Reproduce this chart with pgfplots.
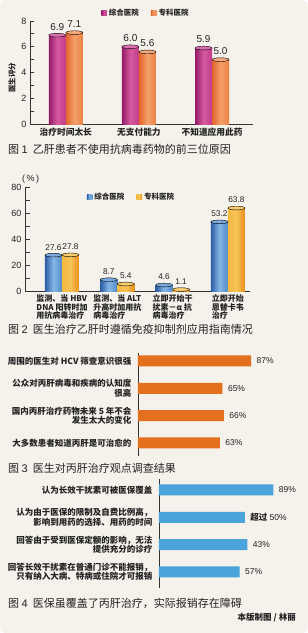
\documentclass[border=0pt]{standalone}
\usepackage{pgfplots}
\pgfplotsset{compat=1.18}
\usepackage{fontspec}
\setmainfont{Noto Sans CJK SC}
\newfontfamily\num{Liberation Sans}
\definecolor{bg}{HTML}{F5F1EB}
\definecolor{txt}{HTML}{222222}
\definecolor{axc}{HTML}{333333}
\definecolor{mgA}{HTML}{931A68}
\definecolor{mgB}{HTML}{D65AA0}
\definecolor{mgC}{HTML}{C23C8A}
\definecolor{mgT}{HTML}{DA6DAE}
\definecolor{orA}{HTML}{E2642A}
\definecolor{orB}{HTML}{F4A06C}
\definecolor{orC}{HTML}{EB8043}
\definecolor{orT}{HTML}{F4AA7C}
\definecolor{blA}{HTML}{2D5CA6}
\definecolor{blB}{HTML}{86B8E6}
\definecolor{blC}{HTML}{4C88CA}
\definecolor{blT}{HTML}{78A8DC}
\definecolor{ylA}{HTML}{F4B83E}
\definecolor{ylB}{HTML}{F6C457}
\definecolor{ylC}{HTML}{E88E1C}
\definecolor{ylT}{HTML}{F8CC6A}
\definecolor{bar3}{HTML}{E2701F}
\definecolor{bar4}{HTML}{4BA3DB}
\pgfplotsset{
  vbase/.style={
    scale only axis, clip=false,
    axis x line*=bottom, axis y line*=left,
    axis line style={-, line width=0.9pt, draw=axc},
    tick align=inside, major tick length=4.5pt, minor tick length=4.5pt,
    y tick style={line width=0.8pt, draw=axc},
    x tick style={draw=none},
    /pgf/number format/assume math mode=true,
    yticklabel style={font=\num\fontsize{9}{9}\selectfont, text=txt},
    legend style={draw=none, fill=none, legend columns=2, text=txt,
      font=\fontsize{7.5}{8}\selectfont\bfseries,
      /tikz/every even column/.append style={column sep=10pt}},
  },
  hbase/.style={
    scale only axis, clip=false,
    axis x line=none, axis y line*=left,
    axis line style={-, line width=0.9pt, draw=axc},
    y tick style={draw=none},
    yticklabel style={align=right, font=\fontsize{8.5}{9.5}\selectfont\bfseries, text=txt, xshift=-3pt},
    xmin=0, xmax=100,
  },
  sq/.style={legend image code/.code={\path[##1] (0pt,-2.8pt) rectangle (5.6pt,2.8pt);}},
  cyl/.style n args={4}{forget plot, ybar, bar width=17pt, bar shift=0pt, draw=none,
    left color=#1, right color=#3, middle color=#2,
    nodes near coords={\pgfmathprintnumber[fixed,fixed zerofill,precision=1]{\pgfplotspointmeta}},
    nodes near coords style={font=\num\fontsize{#4}{10}\selectfont, text=txt, yshift=1.5pt}},
  cyltop/.style={forget plot, only marks, mark=*, mark size=8.5pt, mark options={yscale=0.22, draw=none, fill=#1}},
}
\begin{document}
\begin{tikzpicture}
\useasboundingbox (0pt,0pt) rectangle (308pt,-633pt);
\fill[white] (0pt,0pt) rectangle (308pt,-633pt);
\fill[bg, rounded corners=5pt] (0pt,0pt) rectangle (308pt,-633pt);

% ---------- Chart 1 ----------
\begin{axis}[vbase,
  at={(30pt,-124pt)}, anchor=south west,
  width=223pt, height=103pt,
  xmin=-0.49, xmax=2.56, ymin=0, ymax=8,
  ytick={0,2,4,6,8}, minor ytick={1,3,5,7},
  xtick={0,1,2}, xticklabels={治疗时间太长,无支付能力,不知道应用此药},
  xticklabel style={font=\fontsize{8.7}{9}\selectfont\bfseries, text=txt},
  ylabel={医生评分},
  ylabel style={at={(axis description cs:-0.08,0.45)}, anchor=center, font=\fontsize{7.5}{8}\selectfont\bfseries, text=txt},
  legend style={at={(axis description cs:0.52,1.078)}, anchor=center},
]
\addlegendimage{sq, left color=mgA, right color=mgC, middle color=mgB, draw=none}
\addlegendentry{综合医院}
\addlegendimage{sq, left color=orA, right color=orC, middle color=orB, draw=none}
\addlegendentry{专科医院}
\addplot[cyl={mgA}{mgB}{mgC}{10}] coordinates {(-0.1164,6.9)};
\addplot[cyl={mgA}{mgB}{mgC}{10}] coordinates {(0.8836,6.0)};
\addplot[cyl={mgA}{mgB}{mgC}{10}] coordinates {(1.8836,5.9)};
\addplot[cyltop=mgT] coordinates {(-0.1164,6.9) (0.8836,6.0) (1.8836,5.9)};
\addplot[cyl={orA}{orB}{orC}{10}] coordinates {(0.1164,7.1)};
\addplot[cyl={orA}{orB}{orC}{10}] coordinates {(1.1164,5.6)};
\addplot[cyl={orA}{orB}{orC}{10}] coordinates {(2.1164,5.0)};
\addplot[cyltop=orT] coordinates {(0.1164,7.1) (1.1164,5.6) (2.1164,5.0)};
\end{axis}
\node[anchor=west, inner sep=0pt, font=\fontsize{11}{11}\selectfont, text=txt] at (8pt,-149pt) {图 {\num 1}\hspace{5pt}乙肝患者不使用抗病毒药物的前三位原因};

% ---------- Chart 2 ----------
\begin{axis}[vbase,
  at={(25pt,-291pt)}, anchor=south west,
  width=225pt, height=104pt,
  xmin=-0.669, xmax=3.40, ymin=0, ymax=80,
  ytick={0,20,40,60,80}, minor ytick={10,30,50,70},
  xtick={0,1,2,3},
  xticklabels={{监测、当 HBV\\DNA 阳转时加\\用抗病毒治疗},{监测、当 ALT\\升高时加用抗\\病毒治疗},{立即开始干\\扰素－α 抗\\病毒治疗},{立即开始\\恩替卡韦\\治疗}},
  xticklabel style={align=left, font=\fontsize{8}{8.7}\selectfont\bfseries, text=txt},
  legend style={at={(axis description cs:0.473,0.904)}, anchor=center},
]
\addlegendimage{sq, left color=blA, right color=blC, middle color=blB, draw=none}
\addlegendentry{综合医院}
\addlegendimage{sq, left color=ylA, right color=ylC, middle color=ylB, draw=none}
\addlegendentry{专科医院}
\addplot[cyl={blA}{blB}{blC}{8.3}] coordinates {(-0.1537,27.6)};
\addplot[cyl={blA}{blB}{blC}{8.3}] coordinates {(0.8463,8.7)};
\addplot[cyl={blA}{blB}{blC}{8.3}] coordinates {(1.8463,4.6)};
\addplot[cyl={blA}{blB}{blC}{8.3}] coordinates {(2.8463,53.2)};
\addplot[cyltop=blT] coordinates {(-0.1537,27.6) (0.8463,8.7) (1.8463,4.6) (2.8463,53.2)};
\addplot[cyl={ylA}{ylB}{ylC}{8.3}] coordinates {(0.1537,27.8)};
\addplot[cyl={ylA}{ylB}{ylC}{8.3}] coordinates {(1.1537,5.4)};
\addplot[cyl={ylA}{ylB}{ylC}{8.3}] coordinates {(2.1537,1.1)};
\addplot[cyl={ylA}{ylB}{ylC}{8.3}] coordinates {(3.1537,63.8)};
\addplot[cyltop=ylT] coordinates {(0.1537,27.8) (1.1537,5.4) (2.1537,1.1) (3.1537,63.8)};
\end{axis}
\node[anchor=west, inner sep=0pt, font=\num\fontsize{9}{9}\selectfont, text=txt] at (22pt,-179pt) {(\,\%\,)};
\node[anchor=west, inner sep=0pt, font=\fontsize{11}{11}\selectfont, text=txt] at (8pt,-329pt) {图 {\num 2}\hspace{5pt}医生治疗乙肝时遵循免疫抑制剂应用指南情况};

% ---------- Chart 3 ----------
\begin{axis}[hbase,
  at={(138pt,-456pt)}, anchor=south west,
  width=130pt, height=103pt,
  ymin=-3.48, ymax=0.29,
  ytick={0,-1,-2,-3},
  yticklabels={{周围的医生对 HCV 筛查意识很强},{公众对丙肝病毒和疾病的认知度\\很高},{国内丙肝治疗药物未来 5 年不会\\发生太大的变化},{大多数患者知道丙肝是可治愈的}},
]
\addplot[xbar, bar width=11pt, bar shift=0pt, fill=bar3, draw=none,
  point meta=explicit symbolic, nodes near coords,
  nodes near coords style={font=\num\fontsize{8.5}{9}\selectfont, text=txt, anchor=west, xshift=2pt}]
  coordinates {(87,0) [87\%] (65,-1) [65\%] (66,-2) [66\%] (63,-3) [63\%]};
\end{axis}
\node[anchor=west, inner sep=0pt, font=\fontsize{11}{11}\selectfont, text=txt] at (8pt,-468pt) {图 {\num 3}\hspace{5pt}医生对丙肝治疗观点调查结果};

% ---------- Chart 4 ----------
\begin{axis}[hbase,
  at={(159pt,-588pt)}, anchor=south west,
  width=130pt, height=109pt,
  ymin=-3.59, ymax=0.40,
  ytick={0,-1,-2,-3},
  yticklabels={{认为长效干扰素可被医保覆盖},{认为由于医保的限制及自费比例高，\\影响到用药的选择、用药的时间},{回答由于受到医保定额的影响，无法\\提供充分的诊疗},{回答长效干扰素在普通门诊不能报销，\\只有纳入大病、特病或住院才可报销}},
]
\addplot[xbar, bar width=11pt, bar shift=0pt, fill=bar4, draw=none,
  point meta=explicit symbolic, nodes near coords,
  nodes near coords style={font=\num\fontsize{8.5}{9}\selectfont, text=txt, anchor=west, xshift=2pt}]
  coordinates {(88,0) [89\%] (66,-1) [{\rmfamily\bfseries 超过} 50\%] (68,-2) [43\%] (62,-3) [57\%]};
\end{axis}
\node[anchor=west, inner sep=0pt, font=\fontsize{11}{11}\selectfont, text=txt] at (8pt,-603pt) {图 {\num 4}\hspace{5pt}医保虽覆盖了丙肝治疗，实际报销存在障碍};
\node[anchor=east, inner sep=0pt, font=\fontsize{8.5}{9}\selectfont\bfseries, text=txt] at (296pt,-618pt) {本版制图 / 林丽};
\end{tikzpicture}
\end{document}
